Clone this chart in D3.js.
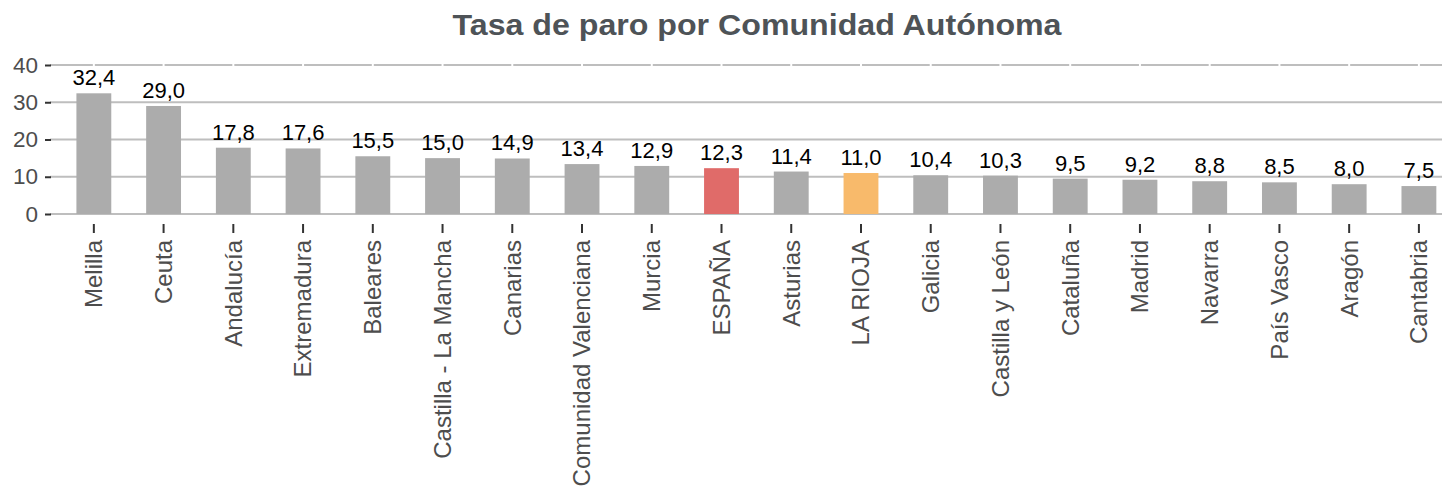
<!DOCTYPE html>
<html>
<head>
  <meta charset="utf-8">
  <title>Tasa de paro</title>
  <script src="https://d3js.org/d3.v7.min.js"></script>
  <style>
    body { margin: 0; background: white; }
    svg { display: block; font-family: "Liberation Sans", Arial, sans-serif; }
  </style>
</head>
<body>
  <div id="chart"></div>
  <script>
    var regions = ["Melilla", "Ceuta", "Andalucía", "Extremadura", "Baleares",
      "Castilla - La Mancha", "Canarias", "Comunidad Valenciana", "Murcia", "ESPAÑA",
      "Asturias", "LA RIOJA", "Galicia", "Castilla y León", "Cataluña", "Madrid",
      "Navarra", "País Vasco", "Aragón", "Cantabria"];
    var rates = [32.4, 29.0, 17.8, 17.6, 15.5, 15.0, 14.9, 13.4, 12.9, 12.3,
      11.4, 11.0, 10.4, 10.3, 9.5, 9.2, 8.8, 8.5, 8.0, 7.5];
    var yTicks = [0, 10, 20, 30, 40];

    var data = regions.map((r, i) => ({ region: r, value: rates[i] }));

    var svg = d3.select("#chart")
                .append("svg")
                .attr("width", 1442)
                .attr("height", 486);

    var step = 69.74;
    var left = 52;
    var xScale = d3.scaleBand()
                   .domain(regions)
                   .range([left + 0.6 * step - step / 2, left + 0.6 * step - step / 2 + step * regions.length])
                   .paddingInner(0.5)
                   .paddingOuter(0.25);

    var yScale = d3.scaleLinear()
                   .domain([0, 40])
                   .range([214, 65]);

    var es = d3.formatLocale({ decimal: ",", thousands: ".", grouping: [3], currency: ["", "€"] });
    var fmt = es.format(".1f");

    function barColor(d) {
      if (d.region === "ESPAÑA") return "#e06b69";
      if (d.region === "LA RIOJA") return "#f8ba6b";
      return "#acacac";
    }

    // gridlines
    svg.append("g")
       .selectAll("line")
       .data(yTicks)
       .join("line")
       .attr("x1", 50)
       .attr("x2", 1442)
       .attr("y1", d => yScale(d))
       .attr("y2", d => yScale(d))
       .attr("stroke", "#bebebe")
       .attr("stroke-width", 2.2);

    // small breaks on the top gridline
    svg.append("g")
       .selectAll("line")
       .data(regions)
       .join("line")
       .attr("x1", d => xScale(d) + xScale.bandwidth() / 2)
       .attr("x2", d => xScale(d) + xScale.bandwidth() / 2)
       .attr("y1", yScale(40) - 3)
       .attr("y2", yScale(40) + 3)
       .attr("stroke", "white")
       .attr("stroke-width", 2);

    // bars
    svg.append("g")
       .selectAll("rect")
       .data(data)
       .join("rect")
       .attr("x", d => xScale(d.region))
       .attr("width", xScale.bandwidth())
       .attr("y", d => yScale(d.value))
       .attr("height", d => yScale(0) - yScale(d.value))
       .attr("fill", barColor);

    // value labels
    svg.append("g")
       .selectAll("text")
       .data(data)
       .join("text")
       .attr("x", d => xScale(d.region) + xScale.bandwidth() / 2)
       .attr("y", d => yScale(d.value) - 8)
       .attr("text-anchor", "middle")
       .attr("font-size", 22)
       .attr("fill", "black")
       .text(d => fmt(d.value));

    // y axis
    var yAxis = svg.append("g")
       .attr("transform", "translate(51, 0)")
       .call(d3.axisLeft(yScale).tickValues(yTicks).tickSize(6).tickPadding(7));
    yAxis.select(".domain").remove();
    yAxis.selectAll(".tick line").attr("stroke", "#333333").attr("stroke-width", 2);
    yAxis.selectAll(".tick text")
         .attr("font-size", 22.5)
         .attr("font-family", "Liberation Sans, Arial, sans-serif")
         .attr("fill", "#4d4d4d");

    // x axis
    var xAxis = svg.append("g")
       .attr("transform", "translate(0, 224)")
       .call(d3.axisBottom(xScale).tickSize(9).tickPadding(7));
    xAxis.select(".domain").remove();
    xAxis.selectAll(".tick line").attr("stroke", "#333333").attr("stroke-width", 2);
    xAxis.selectAll(".tick text")
         .attr("font-size", 24)
         .attr("font-family", "Liberation Sans, Arial, sans-serif")
         .attr("fill", "#4d4d4d")
         .attr("text-anchor", "end")
         .attr("dy", "0.35em")
         .attr("transform", "rotate(-90)")
         .attr("x", -16)
         .attr("y", 0);

    // title
    svg.append("text")
       .attr("x", 757)
       .attr("y", 35)
       .attr("text-anchor", "middle")
       .attr("font-size", 29)
       .attr("font-weight", "bold")
       .attr("fill", "#4e5357")
       .attr("textLength", 609)
       .attr("lengthAdjust", "spacingAndGlyphs")
       .text("Tasa de paro por Comunidad Autónoma");
  </script>
</body>
</html>
